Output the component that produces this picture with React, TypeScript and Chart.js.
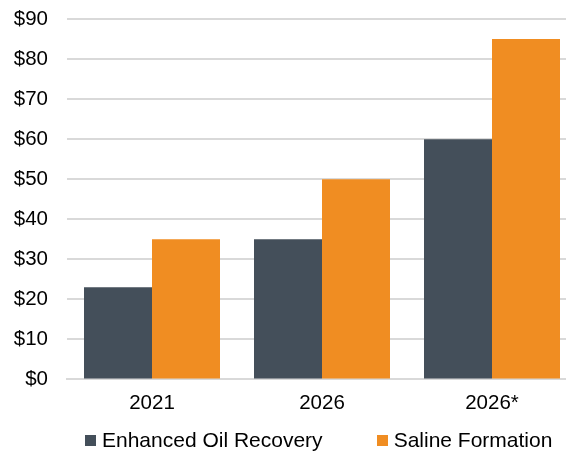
import React, { useEffect, useRef } from "react";
import { Chart, registerables } from "chart.js";

Chart.register(...registerables);

const categories = ["2021", "2026", "2026*"];
const enhancedOilRecovery = [23, 35, 60];
const salineFormation = [35, 50, 85];
const yTicks = [0, 10, 20, 30, 40, 50, 60, 70, 80, 90];
const seriesNames = ["Enhanced Oil Recovery", "Saline Formation"];
const seriesColors = ["#444f5a", "#f08d22"];

const FONT_FAMILY = "'Liberation Sans', Arial, sans-serif";

export default function App() {
  const ref = useRef<HTMLCanvasElement>(null);
  useEffect(() => {
    document.body.style.margin = "0";
    const ctx = ref.current!;
    const font = { family: FONT_FAMILY, size: 20.5 };
    const chart = new Chart(ctx, {
      type: "bar",
      data: {
        labels: categories,
        datasets: [
          {
            label: seriesNames[0],
            data: enhancedOilRecovery,
            backgroundColor: seriesColors[0],
            categoryPercentage: 0.8,
            barPercentage: 1,
          },
          {
            label: seriesNames[1],
            data: salineFormation,
            backgroundColor: seriesColors[1],
            categoryPercentage: 0.8,
            barPercentage: 1,
          },
        ],
      },
      options: {
        animation: false,
        responsive: false,
        maintainAspectRatio: false,
        layout: { padding: { left: 13, right: 0, top: 19, bottom: 23 } },
        plugins: {
          tooltip: { enabled: false },
          legend: { display: false },
        },
        scales: {
          x: {
            grid: { display: false, drawTicks: false },
            border: { display: true, color: "#d9d9d9", width: 2 },
            ticks: { color: "#000", font, padding: 12 },
          },
          y: {
            min: 0,
            max: 90,
            afterBuildTicks: (axis: any) => {
              axis.ticks = yTicks.map((v) => ({ value: v }));
            },
            afterFit: (axis: any) => {
              axis.width = 54;
              axis.paddingTop = 0;
              axis.paddingBottom = 0;
            },
            grid: { color: "#d9d9d9", lineWidth: 2, drawTicks: false },
            border: { display: false },
            ticks: {
              color: "#000",
              font,
              padding: 19,
              callback: (v: any) => "$" + v,
            },
          },
        },
      },
    });
    return () => chart.destroy();
  }, []);
  return (
    <div style={{ position: "absolute", left: 0, top: 0, width: 566, height: 451, overflow: "hidden" }}>
      <canvas ref={ref} width={577} height={451} style={{ display: "block" }} />
      <div
        style={{
          position: "absolute",
          left: 85,
          top: 428,
          display: "flex",
          alignItems: "center",
          gap: 54,
          fontFamily: FONT_FAMILY,
          fontSize: 21,
          lineHeight: "24px",
          color: "#000",
          whiteSpace: "nowrap",
        }}
      >
        {seriesNames.map((name, i) => (
          <div key={name} style={{ display: "flex", alignItems: "center" }}>
            <span
              style={{
                display: "inline-block",
                width: 11,
                height: 11,
                background: seriesColors[i],
                marginRight: 6,
              }}
            />
            <span>{name}</span>
          </div>
        ))}
      </div>
    </div>
  );
}
